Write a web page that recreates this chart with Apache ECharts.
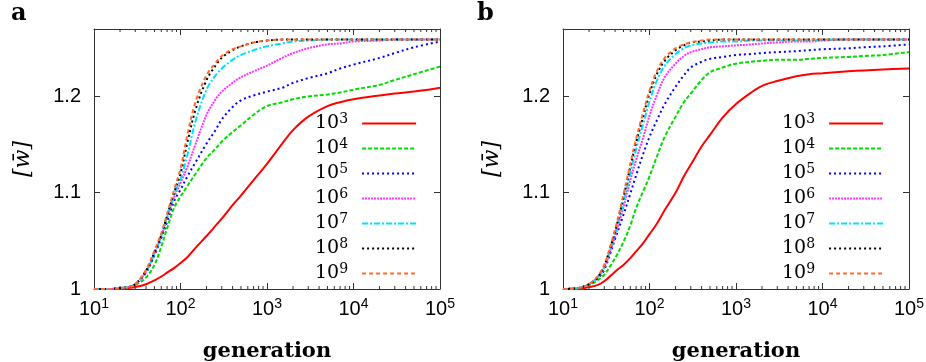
<!DOCTYPE html>
<html>
<head>
<meta charset="utf-8">
<script src="https://cdn.jsdelivr.net/npm/echarts@6/dist/echarts.min.js"></script>
<style>
  html, body { margin: 0; padding: 0; background: #fff; }
  #chart { width: 926px; height: 362px; }
</style>
</head>
<body>
<div id="chart"></div>
<script>
// generations sampled along the log x axis
const gens = [10, 15, 20, 25, 30, 40, 50, 60, 70, 85, 100, 120, 150, 200, 250, 300, 400, 500, 700, 1000,
              1500, 2000, 3000, 5000, 7000, 10000, 20000, 30000, 50000, 100000];

// population size exponents (legend 10^3 ... 10^9)
const exps = [3, 4, 5, 6, 7, 8, 9];

// panel a
const a3 = [1.000, 1.000, 1.000, 1.001, 1.002, 1.005, 1.009, 1.013, 1.017, 1.022, 1.027, 1.033, 1.043, 1.055, 1.065,
            1.073, 1.087, 1.097, 1.113, 1.130, 1.151, 1.165, 1.179, 1.190, 1.194, 1.197, 1.201, 1.203, 1.205, 1.209];
const a4 = [1.000, 1.000, 1.001, 1.002, 1.004, 1.012, 1.025, 1.044, 1.063, 1.085, 1.096, 1.107, 1.120, 1.136, 1.145,
            1.153, 1.163, 1.170, 1.181, 1.190, 1.194, 1.197, 1.200, 1.202, 1.204, 1.207, 1.212, 1.217, 1.223, 1.231];
const a5 = [1.000, 1.000, 1.001, 1.002, 1.005, 1.017, 1.035, 1.053, 1.070, 1.092, 1.103, 1.117, 1.132, 1.151, 1.164,
            1.176, 1.189, 1.196, 1.201, 1.205, 1.209, 1.214, 1.219, 1.224, 1.229, 1.233, 1.240, 1.245, 1.251, 1.257];
const a6 = [1.000, 1.000, 1.001, 1.002, 1.005, 1.018, 1.037, 1.055, 1.074, 1.096, 1.110, 1.127, 1.151, 1.181, 1.196,
            1.205, 1.214, 1.220, 1.226, 1.232, 1.240, 1.245, 1.250, 1.254, 1.255, 1.257, 1.258, 1.259, 1.259, 1.259];
const a7 = [1.000, 1.000, 1.001, 1.002, 1.005, 1.018, 1.037, 1.055, 1.075, 1.099, 1.114, 1.139, 1.175, 1.207, 1.221,
            1.229, 1.238, 1.243, 1.248, 1.252, 1.255, 1.257, 1.258, 1.259, 1.259, 1.259, 1.259, 1.259, 1.259, 1.259];
const a8 = [1.000, 1.000, 1.001, 1.002, 1.005, 1.019, 1.038, 1.056, 1.076, 1.101, 1.120, 1.152, 1.187, 1.217, 1.231,
            1.240, 1.248, 1.252, 1.256, 1.258, 1.259, 1.259, 1.259, 1.259, 1.259, 1.259, 1.259, 1.259, 1.259, 1.259];
const a9 = [1.000, 1.000, 1.001, 1.002, 1.005, 1.020, 1.040, 1.058, 1.078, 1.104, 1.125, 1.160, 1.195, 1.222, 1.234,
            1.242, 1.249, 1.252, 1.256, 1.258, 1.259, 1.259, 1.259, 1.259, 1.259, 1.259, 1.259, 1.259, 1.259, 1.259];

// panel b
const b3 = [1.000, 1.000, 1.002, 1.004, 1.008, 1.018, 1.025, 1.032, 1.039, 1.048, 1.057, 1.067, 1.082, 1.100, 1.117,
            1.129, 1.148, 1.160, 1.178, 1.192, 1.204, 1.211, 1.216, 1.221, 1.223, 1.224, 1.226, 1.227, 1.228, 1.229];
const b4 = [1.000, 1.001, 1.004, 1.009, 1.015, 1.032, 1.049, 1.066, 1.084, 1.102, 1.117, 1.136, 1.158, 1.179, 1.194,
            1.203, 1.217, 1.225, 1.230, 1.234, 1.236, 1.237, 1.238, 1.238, 1.239, 1.240, 1.241, 1.242, 1.243, 1.246];
const b5 = [1.000, 1.001, 1.005, 1.011, 1.020, 1.052, 1.077, 1.099, 1.118, 1.141, 1.158, 1.174, 1.192, 1.210, 1.222,
            1.230, 1.236, 1.239, 1.241, 1.243, 1.244, 1.245, 1.246, 1.247, 1.248, 1.249, 1.250, 1.251, 1.252, 1.254];
const b6 = [1.000, 1.001, 1.005, 1.012, 1.022, 1.055, 1.085, 1.113, 1.134, 1.158, 1.180, 1.200, 1.220, 1.234, 1.242,
            1.246, 1.249, 1.251, 1.252, 1.253, 1.254, 1.255, 1.256, 1.257, 1.257, 1.258, 1.259, 1.259, 1.259, 1.259];
const b7 = [1.000, 1.001, 1.005, 1.012, 1.023, 1.058, 1.090, 1.120, 1.145, 1.172, 1.195, 1.215, 1.232, 1.244, 1.250,
            1.253, 1.255, 1.256, 1.257, 1.257, 1.258, 1.258, 1.258, 1.258, 1.258, 1.259, 1.259, 1.259, 1.259, 1.259];
const b8 = [1.000, 1.001, 1.005, 1.012, 1.024, 1.060, 1.095, 1.127, 1.152, 1.180, 1.203, 1.222, 1.237, 1.248, 1.253,
            1.256, 1.257, 1.258, 1.259, 1.259, 1.259, 1.259, 1.259, 1.259, 1.259, 1.259, 1.259, 1.259, 1.259, 1.259];
const b9 = [1.000, 1.001, 1.005, 1.013, 1.025, 1.062, 1.098, 1.130, 1.156, 1.184, 1.206, 1.225, 1.240, 1.250, 1.254,
            1.256, 1.258, 1.259, 1.259, 1.259, 1.259, 1.259, 1.259, 1.259, 1.259, 1.259, 1.259, 1.259, 1.259, 1.259];

const yTicks = [1, 1.1, 1.2];
const minorX = [20, 30, 40, 50, 60, 70, 80, 90, 200, 300, 400, 500, 600, 700, 800, 900,
                2000, 3000, 4000, 5000, 6000, 7000, 8000, 9000, 20000, 30000, 40000, 50000, 60000, 70000, 80000, 90000];

const colors = ['#ff0000', '#00dd00', '#0000ff', '#ff33ff', '#00e0ff', '#000000', '#ff6a2a'];
const dashes = ['solid', [4, 2], [2, 3], [2, 1], [6, 2, 2, 2], [2, 3], [4, 3]];

const Y_MIN = 1, Y_MAX = 1.27;
const frame = '#333';

const chart = echarts.init(document.getElementById('chart'), null, { renderer: 'canvas' });

function pair(vals) { return gens.map((g, i) => [g, vals[i]]); }

function logLabel(v) {
  return '{b|10}{s|' + Math.round(Math.log10(v)) + '}';
}

const tickRich = {
  b: { fontFamily: 'Liberation Sans', fontSize: 20, color: '#000', lineHeight: 24 },
  s: { fontFamily: 'Liberation Sans', fontSize: 14, color: '#000', lineHeight: 13, verticalAlign: 'top' }
};

function xAxes(gi) {
  return [{
    gridIndex: gi, type: 'log', logBase: 10, min: 10, max: 100000, position: 'bottom',
    axisLine: { show: true, onZero: false, lineStyle: { color: frame, width: 1 } },
    axisTick: { show: true, inside: true, length: 6, lineStyle: { color: frame } },
    splitLine: { show: false },
    axisLabel: { margin: 8, formatter: logLabel, rich: tickRich },
    name: 'generation', nameLocation: 'middle', nameGap: 52,
    nameTextStyle: { fontFamily: 'DejaVu Serif', fontWeight: 'bold', fontSize: 21, color: '#000' }
  }, {
    gridIndex: gi, type: 'log', logBase: 10, min: 10, max: 100000, position: 'top',
    axisLine: { show: true, onZero: false, lineStyle: { color: frame, width: 1 } },
    axisTick: { show: true, inside: true, length: 6, lineStyle: { color: frame } },
    splitLine: { show: false }, axisLabel: { show: false }
  }];
}

function yAxes(gi) {
  return [{
    gridIndex: gi, type: 'value', min: Y_MIN, max: Y_MAX, interval: 0.1, position: 'left',
    axisLine: { show: true, onZero: false, lineStyle: { color: frame, width: 1 } },
    axisTick: { show: true, inside: true, length: 6, lineStyle: { color: frame } },
    splitLine: { show: false },
    axisLabel: {
      margin: 13, showMaxLabel: false,
      fontFamily: 'Liberation Sans', fontSize: 20, color: '#000',
      formatter: v => (yTicks.some(t => Math.abs(t - v) < 1e-6) ? (v === 1 ? '1' : v.toFixed(1)) : '')
    },
    name: '[w\u0304]', nameLocation: 'middle', nameGap: 60, nameRotate: 90,
    nameTextStyle: { fontFamily: 'DejaVu Serif', fontStyle: 'italic', fontSize: 22, color: '#000' }
  }, {
    gridIndex: gi, type: 'value', min: Y_MIN, max: Y_MAX, interval: 0.1, position: 'right',
    axisLine: { show: true, onZero: false, lineStyle: { color: frame, width: 1 } },
    axisTick: { show: true, inside: true, length: 6, lineStyle: { color: frame } },
    splitLine: { show: false }, axisLabel: { show: false }
  }];
}

function lineSeries(gi, sets) {
  return sets.map((vals, i) => ({
    name: '10^' + exps[i],
    type: 'line',
    xAxisIndex: gi * 2, yAxisIndex: gi * 2,
    data: pair(vals),
    showSymbol: false, symbol: 'circle',
    smooth: 0.35,
    color: colors[i],
    lineStyle: { color: colors[i], width: 2, type: dashes[i] },
    z: 3 + i, silent: true
  }));
}

function minorTickSeries(gi) {
  return {
    type: 'custom', xAxisIndex: gi * 2, yAxisIndex: gi * 2, silent: true, z: 1,
    data: minorX.map(v => [v, Y_MIN]),
    renderItem: (params, api) => {
      const v = api.value(0);
      const b = api.coord([v, Y_MIN]);
      const t = api.coord([v, Y_MAX]);
      return {
        type: 'group', children: [
          { type: 'line', shape: { x1: b[0], y1: b[1], x2: b[0], y2: b[1] - 3 }, style: { stroke: frame, lineWidth: 1 } },
          { type: 'line', shape: { x1: t[0], y1: t[1], x2: t[0], y2: t[1] + 3 }, style: { stroke: frame, lineWidth: 1 } }
        ]
      };
    }
  };
}

function legendFor(left) {
  return {
    orient: 'vertical', left: left, top: 107, align: 'right',
    itemWidth: 54, itemHeight: 14, itemGap: 4,
    selectedMode: false,
    data: exps.map(e => '10^' + e),
    itemStyle: { opacity: 0 },
    formatter: name => '{b|10}{s|' + name.split('^')[1] + '}{g|}',
    textStyle: {
      color: '#000',
      rich: {
        b: { fontFamily: 'DejaVu Serif', fontSize: 19, color: '#000', lineHeight: 23 },
        s: { fontFamily: 'DejaVu Serif', fontSize: 14, color: '#000', lineHeight: 13, verticalAlign: 'top' },
        g: { width: 9 }
      }
    }
  };
}

const option = {
  animation: false,
  backgroundColor: '#fff',
  title: [
    { text: 'a', left: 6, top: -3, textStyle: { fontFamily: 'DejaVu Serif', fontWeight: 'bold', fontSize: 24, color: '#000' } },
    { text: 'b', left: 472, top: -3, textStyle: { fontFamily: 'DejaVu Serif', fontWeight: 'bold', fontSize: 24, color: '#000' } }
  ],
  grid: [
    { left: 94, top: 29, width: 346, height: 260, outerBoundsMode: 'none' },
    { left: 563, top: 29, width: 346, height: 260, outerBoundsMode: 'none' }
  ],
  xAxis: [...xAxes(0), ...xAxes(1)],
  yAxis: [...yAxes(0), ...yAxes(1)],
  legend: [legendFor(310), legendFor(777)],
  series: [
    minorTickSeries(0),
    minorTickSeries(1),
    ...lineSeries(0, [a3, a4, a5, a6, a7, a8, a9]),
    ...lineSeries(1, [b3, b4, b5, b6, b7, b8, b9])
  ]
};

chart.setOption(option);
</script>
</body>
</html>
